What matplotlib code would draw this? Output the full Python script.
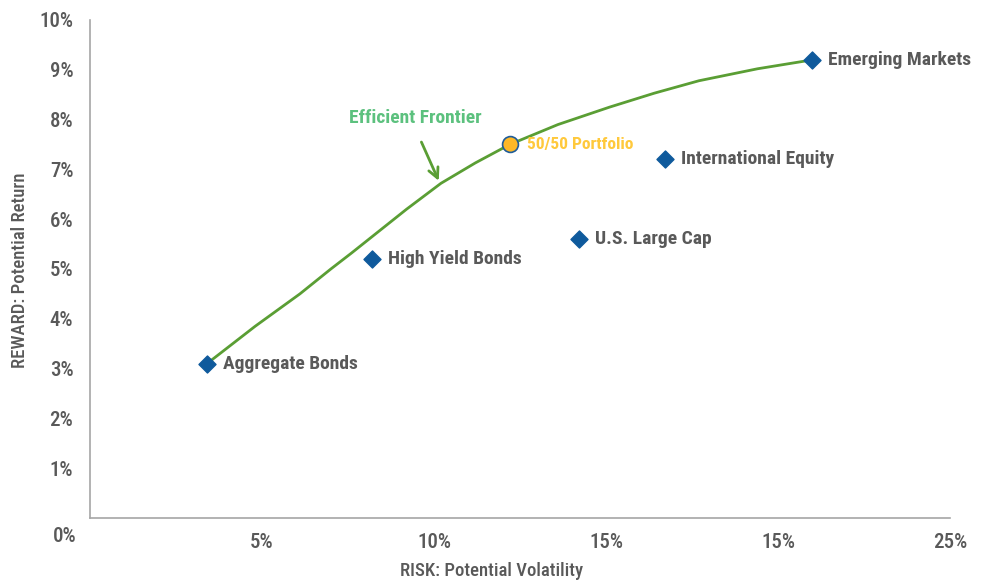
import matplotlib.pyplot as plt

# Asset classes: (name, risk %, return %)
assets = ["Aggregate Bonds", "High Yield Bonds", "U.S. Large Cap", "International Equity", "Emerging Markets"]
risk = [3.4, 8.2, 14.2, 16.7, 21.0]
reward = [3.1, 5.2, 5.6, 7.2, 9.2]

# Efficient frontier points
frontier_x = [3.4, 4.8, 6.1, 7.0, 7.6, 8.2, 9.2, 10.2, 11.2, 12.2, 13.6, 15.1, 16.4, 17.7, 19.4, 21.0]
frontier_y = [3.1, 3.85, 4.5, 5.0, 5.32, 5.65, 6.2, 6.72, 7.13, 7.5, 7.9, 8.25, 8.53, 8.78, 9.02, 9.2]

portfolio_x = 12.2
portfolio_y = 7.5

x_ticks = [5, 10, 15, 20, 25]
x_labels = ["5%", "10%", "15%", "15%", "25%"]
y_ticks = [1, 2, 3, 4, 5, 6, 7, 8, 9, 10]
y_labels = ["1%", "2%", "3%", "4%", "5%", "6%", "7%", "8%", "9%", "10%"]

gray = "#595959"
plt.rcParams["font.family"] = ["Roboto Condensed", "Roboto", "DejaVu Sans"]

fig = plt.figure(figsize=(9.84, 5.83), dpi=100)
ax = fig.add_axes([0.0915, 0.1115, 0.874, 0.8542])

ax.plot(frontier_x, frontier_y, color="#5A9E34", lw=2, zorder=2)
ax.scatter(risk, reward, marker="D", s=75, color="#0F5A9C", zorder=3)
ax.scatter([portfolio_x], [portfolio_y], marker="o", s=130, color="#FDB827",
           edgecolor="#1F5C99", linewidth=1.2, zorder=4)

for name, x, y in zip(assets, risk, reward):
    ax.annotate(name, xy=(x, y), xytext=(16, 0), textcoords="offset pixels",
                ha="left", va="center", fontsize=14, fontweight="bold", color=gray)

ax.annotate("50/50 Portfolio", xy=(portfolio_x, portfolio_y), xytext=(17, 0),
            textcoords="offset pixels", ha="left", va="center",
            fontsize=12.5, fontweight="bold", color="#FFC93C")

ax.annotate("", xy=(10.17, 6.72), xytext=(9.6, 7.6),
            arrowprops=dict(arrowstyle="->", color="#5A9E34", lw=2, mutation_scale=18))
ax.text(9.45, 8.03, "Efficient Frontier", ha="center", va="center",
        fontsize=14, fontweight="bold", color="#5CC17E")

ax.set_xlim(0, 25)
ax.set_ylim(0, 10)
ax.set_xticks(x_ticks)
ax.set_xticklabels(x_labels)
ax.set_yticks(y_ticks)
ax.set_yticklabels(y_labels)
ax.tick_params(length=0, labelsize=15, colors=gray)
ax.tick_params(axis="x", pad=11)
ax.tick_params(axis="y", pad=12)
for lab in ax.get_xticklabels() + ax.get_yticklabels():
    lab.set_fontweight("medium")

ax.annotate("0%", xy=(0, 0), xytext=(-25, -19), textcoords="offset pixels",
            ha="center", va="center", fontsize=15, fontweight="medium", color=gray)

for side in ["top", "right"]:
    ax.spines[side].set_visible(False)
for side in ["left", "bottom"]:
    ax.spines[side].set_color("#A6A6A6")
    ax.spines[side].set_linewidth(1.2)

fig.text(492 / 984, 1 - 571 / 583, "RISK: Potential Volatility", ha="center", va="center",
         fontsize=13.5, fontweight="medium", color=gray)
fig.text(20 / 984, 1 - 270 / 583, "REWARD: Potential Return", ha="center", va="center",
         rotation=90, fontsize=13.5, fontweight="medium", color=gray)

fig.savefig("out.png", dpi=100)
